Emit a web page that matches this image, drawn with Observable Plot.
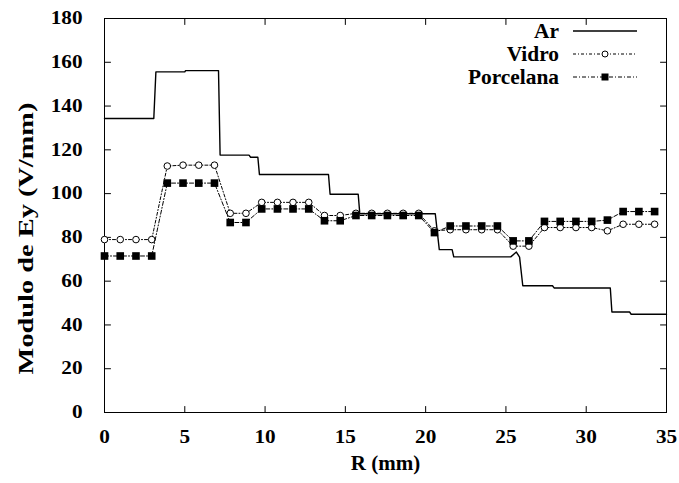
<!DOCTYPE html>
<html>
<head>
<meta charset="utf-8">
<script src="https://cdn.jsdelivr.net/npm/d3@7"></script>
<script src="https://cdn.jsdelivr.net/npm/@observablehq/plot@0.6"></script>
<style>
  body { margin: 0; background: #fff; }
  #chart svg { display: block; }
</style>
</head>
<body>
<div id="chart"></div>
<script>
// Radial positions (mm) where the field was sampled for the dielectric cases
const R = [0, 0.98, 1.96, 2.94, 3.91, 4.89, 5.87, 6.85, 7.83, 8.81,
           9.79, 10.77, 11.74, 12.72, 13.70, 14.68, 15.66, 16.64, 17.62, 18.60,
           19.57, 20.55, 21.53, 22.51, 23.49, 24.47, 25.45, 26.43, 27.40, 28.38,
           29.36, 30.34, 31.32, 32.30, 33.28, 34.26];

// |Ey| (V/mm) with glass
const vidro = [79, 79, 79, 79, 112.6, 113, 113, 113, 91, 91,
               96, 96, 96, 96, 90, 90, 91, 91, 91, 91,
               91, 83, 83.5, 83.5, 83.5, 83.5, 76, 76, 84.5, 84.5,
               84.5, 84.5, 83, 86, 86, 86];

// |Ey| (V/mm) with porcelain
const porcelana = [71.5, 71.5, 71.5, 71.5, 104.8, 104.8, 104.8, 104.8, 86.8, 86.8,
                   93, 93, 93, 93, 87.6, 87.6, 90, 90, 90, 90,
                   90, 82.2, 85.2, 85.2, 85.2, 85.2, 78.4, 78.4, 87.3, 87.3,
                   87.3, 87.3, 87.9, 91.8, 91.8, 91.8];

// |Ey| (V/mm) in air: a piecewise-constant profile
const arR = [0, 3.07, 3.2, 5.0, 5.05, 7.1, 7.2, 9.0, 9.1, 9.55,
             9.65, 13.95, 14.05, 15.8, 15.9, 20.6, 20.85, 21.65, 21.75, 25.3,
             25.65, 25.85, 26.05, 27.9, 28.0, 31.5, 31.6, 32.7, 32.8, 35];
const arE = [134.3, 134.3, 155.6, 155.6, 156.2, 156.2, 117.6, 117.6, 116.6, 116.6,
             108.7, 108.7, 99.7, 99.7, 90.8, 90.8, 74.4, 74.4, 71.1, 71.1,
             73.3, 71.0, 57.9, 57.9, 56.9, 56.9, 45.9, 45.9, 44.9, 44.9];

const xTicks = [0, 5, 10, 15, 20, 25, 30, 35];
const yTicks = [0, 20, 40, 60, 80, 100, 120, 140, 160, 180];

const seriesNames = ["Ar", "Vidro", "Porcelana"];
const xTitle = "R (mm)";
const yTitle = "Modulo de Ey (V/mm)";

const arData = arR.map((r, i) => ({r, e: arE[i]}));
const vidroData = R.map((r, i) => ({r, e: vidro[i]}));
const porcelanaData = R.map((r, i) => ({r, e: porcelana[i]}));

const FONT = "'Liberation Serif', 'Times New Roman', serif";
const DASH_V = "3,2,1,2";
const DASH_P = "4,2,1,2";

// short inward tick: a straight segment along the vector direction
const tickShape = {draw(context, l) { context.moveTo(0, 0); context.lineTo(0, -l); }};
const inTick = (data, opts) => Plot.vector(data, {length: 6, anchor: "start", shape: tickShape, stroke: "black", strokeWidth: 1, ...opts});

const chart = Plot.plot({
  width: 679,
  height: 483,
  marginLeft: 104,
  marginRight: 13,
  marginTop: 18,
  marginBottom: 71,
  style: {fontFamily: FONT, fontWeight: "bold", fontSize: "18px", color: "black", background: "white", overflow: "visible"},
  x: {domain: [0, 35]},
  y: {domain: [0, 180]},
  marks: [
    Plot.axisX(xTicks, {tickSize: 0, tickPadding: 18, label: null, fontSize: 18}),
    Plot.axisY(yTicks, {tickSize: 0, tickPadding: 22, label: null, fontSize: 18}),
    inTick(xTicks, {x: d => d, y: () => 0, rotate: 0}),
    inTick(xTicks, {x: d => d, y: () => 180, rotate: 180}),
    inTick(yTicks, {x: () => 0, y: d => d, rotate: 90}),
    inTick(yTicks, {x: () => 35, y: d => d, rotate: -90}),
    Plot.frame({stroke: "black", strokeWidth: 1}),
    Plot.text([xTitle], {text: d => d, frameAnchor: "bottom", dy: 57, fontSize: 21}),
    Plot.text([yTitle], {text: d => d, frameAnchor: "left", textAnchor: "middle", rotate: -90, dx: -79, dy: 23, fontSize: 22, className: "ytitle"}),
    Plot.line(arData, {x: "r", y: "e", stroke: "black", strokeWidth: 1.4}),
    Plot.line(vidroData, {x: "r", y: "e", stroke: "black", strokeWidth: 1, strokeDasharray: DASH_V}),
    Plot.dot(vidroData, {x: "r", y: "e", r: 3.3, stroke: "black", strokeWidth: 1, fill: "white"}),
    Plot.line(porcelanaData, {x: "r", y: "e", stroke: "black", strokeWidth: 1, strokeDasharray: DASH_P}),
    Plot.dot(porcelanaData, {x: "r", y: "e", symbol: "square", r: 4.3, fill: "black", stroke: "none"})
  ]
});

document.getElementById("chart").appendChild(chart);

const svg = d3.select(chart);

// Key in the upper-right corner of the frame
const key = svg.append("g").attr("class", "key").attr("font-size", 20);
const rows = [
  {name: seriesNames[0], dash: null, mark: null},
  {name: seriesNames[1], dash: DASH_V, mark: "circle"},
  {name: seriesNames[2], dash: DASH_P, mark: "square"}
];
rows.forEach((row, i) => {
  const y = 31 + i * 23;
  key.append("text").attr("transform", `translate(559,${y})`).attr("dy", "0.35em").attr("text-anchor", "end").text(row.name);
  key.append("line").attr("x1", 573).attr("x2", 637).attr("y1", y).attr("y2", y)
    .attr("stroke", "black").attr("stroke-width", row.dash ? 1 : 1.4).attr("stroke-dasharray", row.dash);
  if (row.mark === "circle") key.append("circle").attr("cx", 605).attr("cy", y).attr("r", 3).attr("fill", "white").attr("stroke", "black");
  if (row.mark === "square") key.append("rect").attr("x", 601.5).attr("y", y - 3.5).attr("width", 7).attr("height", 7).attr("fill", "black");
});

// Bold serif throughout, with the slightly wide lettering of the original typesetting
svg.selectAll("text").attr("font-family", FONT).attr("font-weight", "bold").style("font-family", FONT).style("font-weight", "bold");

// Widen a text along its own baseline, about its anchor point
function widen(node, k) {
  const t = node.getAttribute("transform") || "";
  node.setAttribute("transform", `${t} scale(${k.toFixed(3)},1)`);
}
svg.selectAll("[aria-label='x-axis tick label'] text, [aria-label='y-axis tick label'] text").each(function () { widen(this, 1.18); });
svg.selectAll(".key text").each(function () { widen(this, 1.07); });
svg.selectAll(".ytitle text").each(function () { widen(this, 272 / this.getComputedTextLength()); });
</script>
</body>
</html>
